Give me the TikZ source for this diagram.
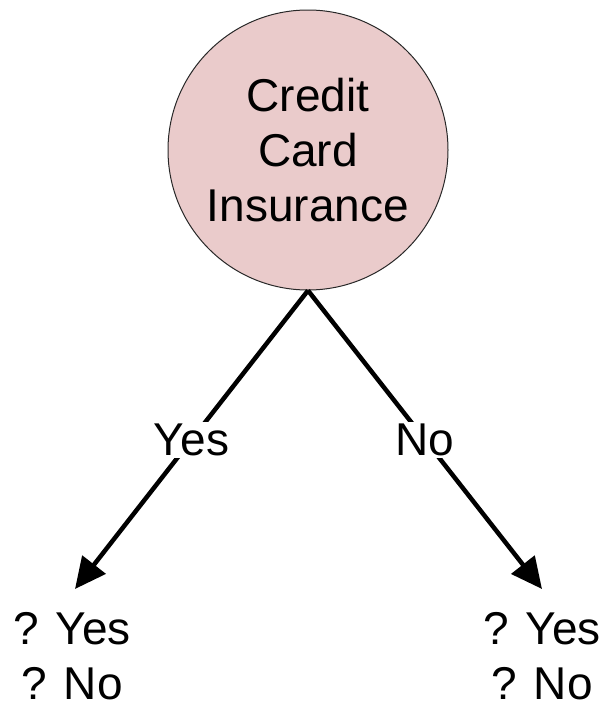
\documentclass[tikz,border=0pt]{standalone}
\usepackage{fontspec}
\setmainfont{Liberation Sans}
\usetikzlibrary{arrows.meta}
\definecolor{rootfill}{RGB}{234,203,203}
\definecolor{rootline}{RGB}{40,40,40}
\begin{document}
\begin{tikzpicture}[x=1pt,y=-1pt,
  rootnode/.style={circle,draw=rootline,line width=1pt,fill=rootfill,
    minimum size=280pt,inner sep=0pt,align=center,
    font=\fontsize{46}{55}\selectfont},
  branch/.style={line width=4.5pt,-{Triangle[length=31pt,width=29pt]}},
  branchlabel/.style={fill=white,inner sep=2pt,font=\fontsize{46}{50}\selectfont},
  outcome/.style={align=center,inner sep=0pt,font=\fontsize{46}{55}\selectfont}]
  \useasboundingbox (0,0) rectangle (605,704);
  \node[rootnode] (root) at (308,150) {Credit\\Card\\Insurance};
  \coordinate (tipL) at (75,589);
  \coordinate (tipR) at (542,589);
  \draw[branch] (root.south) -- node[branchlabel] (yes) {Yes} (tipL);
  \draw[branch] (root.south) -- node[branchlabel] (no) {No} (tipR);
  \node[outcome] (outL) at (72,656) {? Yes\\? No};
  \node[outcome] (outR) at (542,656) {? Yes\\? No};
\end{tikzpicture}
\end{document}
